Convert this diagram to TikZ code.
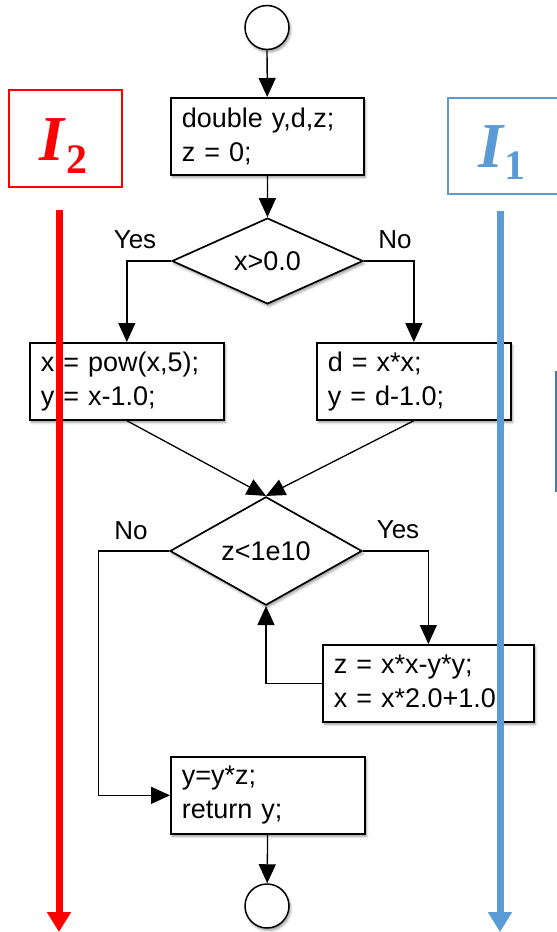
\documentclass[tikz,border=0pt]{standalone}
\usepackage{fontspec}
\setmainfont{Liberation Sans}
\newfontfamily\tagfont{Liberation Serif}
\usetikzlibrary{arrows.meta,shapes.geometric,shadows.blur}
\definecolor{trackred}{RGB}{255,0,0}
\definecolor{trackblue}{RGB}{91,155,213}
\definecolor{edgeblue}{RGB}{80,120,165}

\begin{document}
\begin{tikzpicture}[x=1pt,y=-1pt,
  font=\fontsize{27}{34}\selectfont,
  softshadow/.style={blur shadow={shadow xshift=1.5pt,shadow yshift=-2.5pt,
      shadow blur radius=2.5pt,shadow opacity=40}},
  stmt/.style={draw,line width=1.7pt,fill=white,rectangle,minimum height=77pt,
      align=left,inner xsep=11pt,inner ysep=0pt,anchor=north west,softshadow},
  decision/.style={draw,line width=1.7pt,fill=white,diamond,inner sep=0pt,softshadow},
  terminal/.style={draw,line width=1.5pt,fill=white,circle,minimum size=44pt,
      inner sep=0pt,softshadow},
  conn/.style={line width=1.3pt,-{Triangle[length=19pt,width=17pt]}},
  branch/.style={font=\fontsize{26}{30}\selectfont},
  track/.style={line width=7pt,-{Triangle[length=20pt,width=23pt]}},
  tagbox/.style={draw,line width=1.8pt,rectangle},
  tagtext/.style={anchor=base,inner sep=0pt},
]
\clip (0,0) rectangle (557,932);
\useasboundingbox (0,0) rectangle (557,932);

% interval markers
\node[tagbox,draw=trackred,minimum width=113pt,minimum height=97pt] (tagtwo) at (65.5,138.5) {};
\node[tagtext,text=trackred] (tagtwotext) at (63.5,160)
  {\tagfont\bfseries\itshape\fontsize{64}{64}\selectfont I\kern2pt\raisebox{-13pt}{\upshape\fontsize{42}{42}\selectfont 2}};
\node[tagbox,draw=trackblue,anchor=north west,minimum width=125pt,minimum height=96pt] (tagone) at (447,97) {};
\node[tagtext,text=trackblue] (tagonetext) at (502,167)
  {\tagfont\bfseries\itshape\fontsize{64}{64}\selectfont I\kern2pt\raisebox{-12pt}{\upshape\fontsize{42}{42}\selectfont 1}};

% edge of a neighbouring frame
\coordinate (frameA) at (555.5,371);
\coordinate (frameB) at (555.5,492);
\draw[edgeblue,line width=2pt] (frameA) -- (frameB);

% flow chart
\node[terminal] (start) at (267,27.5) {};
\node[stmt,text width=171pt] (decl) at (170,97) {double y,d,z;\\z = 0;};
\node[decision,minimum width=191pt,minimum height=76pt] (testx) at (267.5,261) {x>0.0};
\node[stmt,text width=172pt] (posx) at (29,342) {x = pow(x,5);\\y = x-1.0;};
\node[stmt,text width=172pt] (negx) at (316,342) {d = x*x;\\y = d-1.0;};
\node[decision,minimum width=192pt,minimum height=77pt] (testz) at (266,551) {z<1e10};
\node[stmt,text width=189pt] (loop) at (322,644) {z = x*x-y*y;\\x = x*2.0+1.0;};
\node[stmt,text width=172pt] (ret) at (170,756) {y=y*z;\\return y;};
\node[terminal] (stop) at (267,906) {};

\node[branch] (yesx) at (135,240) {Yes};
\node[branch] (nox) at (395,240) {No};
\node[branch] (noz) at (131,531) {No};
\node[branch] (yesz) at (398,530) {Yes};

\draw[conn] (start) -- (decl);
\draw[conn] (decl) -- (testx);
\draw[conn] (testx.west) -| (posx.north);
\draw[conn] (testx.east) -| (negx.north);
\draw[conn] (posx.south) -- (testz.north);
\draw[conn] (negx.south) -- (testz.north);
\draw[conn] (testz.east) -| (loop.north);
\draw[conn] (loop.west) -| (testz.south);
\draw[conn] (testz.west) -- ++(-71,0) |- (ret.west);
\draw[conn] (ret) -- (stop);

% execution tracks
\coordinate (redtop) at (59,210);
\coordinate (redend) at (59,932);
\coordinate (bluetop) at (500,211);
\coordinate (blueend) at (500,932);
\draw[track,trackred] (redtop) -- (redend);
\draw[track,trackblue] (bluetop) -- (blueend);
\end{tikzpicture}
\end{document}
